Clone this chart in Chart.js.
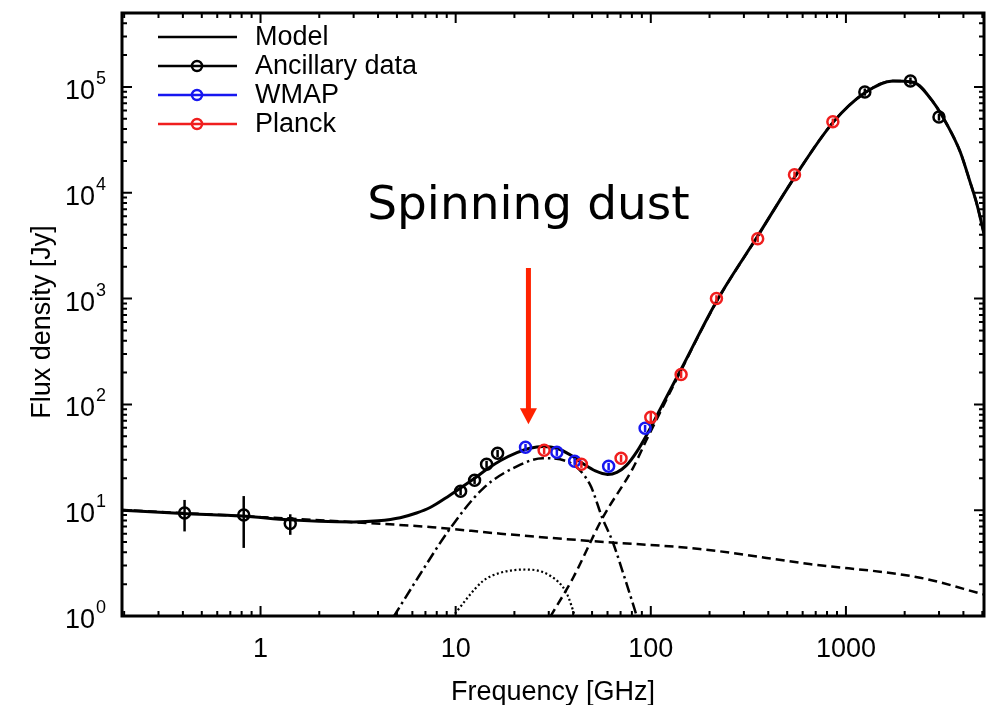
<!DOCTYPE html>
<html>
<head>
<meta charset="utf-8">
<title>Spinning dust SED</title>
<script src="https://cdn.jsdelivr.net/npm/chart.js@4.4.1/dist/chart.umd.min.js"></script>
<style>
  html, body { margin: 0; padding: 0; background: #fff; }
  #wrap { width: 1000px; height: 705px; }
</style>
</head>
<body>
<div id="wrap"><canvas id="sed" width="1000" height="705"></canvas></div>
<script>
/* Values: frequency in GHz, flux density in Jy */

/* measured points */
const ancFreq = [0.408, 0.82, 1.42, 10.6, 12.5, 14.4, 16.4, 1250, 2141, 2998];
const ancFlux = [9.4, 9.0, 7.5, 15.1, 19.2, 27.2, 34.5, 89700, 114000, 52000];
const ancErr  = [3.1, 4.6, 1.65, 1.2, 1.5, 2.1, 2.7, 7000, 9000, 4000];

const wmapFreq = [22.8, 33.0, 40.7, 60.8, 93.5];
const wmapFlux = [39.3, 35.3, 29.0, 26.0, 59.4];
const wmapErr  = [3.0, 2.7, 2.2, 2.0, 4.6];

const planckFreq = [28.4, 44.1, 70.4, 100, 143, 217, 353, 545, 857];
const planckFlux = [36.8, 27.2, 31.0, 75.4, 192, 1000, 3680, 14800, 46800];
const planckErr  = [2.8, 2.1, 2.4, 10, 15, 75, 280, 1100, 3500];

/* model curves */
const modelFreq = [0.19, 0.4, 0.8, 1.4, 2, 3, 4, 5.2, 6.3, 7.4, 9.3, 10.6, 12.5, 14.5, 17, 20.6, 24, 28, 33, 39, 45, 52, 60, 67, 75, 85, 95, 105, 115, 143, 217, 353, 545, 857, 1250, 1740, 2210, 2800, 3300, 3850, 4330, 4700, 5200];
const modelFlux = [10.0, 9.3, 8.8, 8.1, 7.85, 7.75, 7.95, 8.5, 9.4, 10.6, 13.8, 16.2, 20, 24.5, 29.5, 35, 38.5, 40, 38.5, 33, 27.5, 23.5, 21.8, 22.8, 26.5, 36, 51, 72, 100, 215, 940, 3900, 14000, 46000, 88000, 114000, 111000, 72000, 44000, 24400, 12600, 7700, 3500];

const freeFreq = [0.19, 0.4, 1, 3, 7.6, 17, 50, 178, 650, 2400, 5200];
const freeFlux = [10.1, 9.4, 8.6, 7.7, 6.9, 6.0, 5.1, 4.3, 3.1, 2.3, 1.58];

const spinFreq = [4.8, 6.5, 9.3, 13.8, 20.6, 28, 37, 48.7, 56.5, 63.6, 74, 85];
const spinFlux = [0.98, 2.4, 6.6, 16, 26, 31, 29, 17.6, 8.4, 5.1, 2.2, 0.98];

const spin2Freq = [9.6, 13.8, 16.8, 23, 30.5, 37, 41];
const spin2Flux = [0.98, 2.14, 2.55, 2.75, 2.4, 1.65, 0.98];

const dustFreq = [30.5, 40, 56.5, 81, 95, 115, 143, 217, 353, 545, 857, 1250, 1740, 2210, 2800, 3300, 3850, 4330, 4700, 5200];
const dustFlux = [0.98, 2.3, 8.4, 25, 46, 94, 210, 930, 3890, 13990, 45990, 87990, 113990, 110990, 71990, 43990, 24390, 12590, 7690, 3490];

/* axes */
const xRange = [0.195, 5100];
const yRange = [1, 5e5];
const xMajor = [1, 10, 100, 1000];
const xLabels = ['1', '10', '100', '1000'];
const yMajor = [1, 10, 100, 1000, 10000, 100000];
const yExp = ['0', '1', '2', '3', '4', '5'];

/* annotation: arrow and text, in data coordinates */
const noteText = 'Spinning dust';
const noteFreq = 23.6;
const noteTextFlux = 5700;
const arrowFrom = 1950;
const arrowTo = 65;

const BLUE = '#1717f0';
const RED = '#f01e1e';
const FONT = '"Liberation Sans", Arial, Helvetica, sans-serif';

const pts = (xs, ys) => xs.map((v, i) => ({ x: v, y: ys[i] }));

function pointSet(label, xs, ys, err, colour, row) {
  return {
    label, data: pts(xs, ys), err, legendRow: row,
    showLine: false, pointRadius: 5.5, pointBorderWidth: 2.5,
    pointBorderColor: colour, borderColor: colour,
    pointBackgroundColor: 'rgba(0,0,0,0)', backgroundColor: 'rgba(0,0,0,0)'
  };
}

function lineSet(label, xs, ys, width, dash, row) {
  return {
    label, data: pts(xs, ys), legendRow: row,
    showLine: true, pointRadius: 0, borderColor: '#000', borderWidth: width,
    borderDash: dash, cubicInterpolationMode: 'monotone', fill: false
  };
}

/* error bars through the circles */
const errorBars = {
  id: 'errorBars',
  afterDatasetsDraw(chart) {
    const { ctx, chartArea: a, scales: { x, y } } = chart;
    ctx.save();
    ctx.beginPath();
    ctx.rect(a.left, a.top, a.right - a.left, a.bottom - a.top);
    ctx.clip();
    chart.data.datasets.forEach(ds => {
      if (!ds.err) return;
      ctx.strokeStyle = ds.pointBorderColor;
      ctx.lineWidth = 2.5;
      ds.data.forEach((p, i) => {
        const px = x.getPixelForValue(p.x);
        ctx.beginPath();
        ctx.moveTo(px, y.getPixelForValue(p.y + ds.err[i]));
        ctx.lineTo(px, y.getPixelForValue(p.y - ds.err[i]));
        ctx.stroke();
      });
    });
    ctx.restore();
  }
};

/* gnuplot-like frame, inward ticks, labels, legend, annotation */
const frame = {
  id: 'frame',
  afterDraw(chart) {
    const { ctx, chartArea: a, scales: { x, y } } = chart;
    ctx.save();
    ctx.strokeStyle = '#000';
    ctx.fillStyle = '#000';

    // ticks
    const minor = (lo, hi) => {
      const out = [];
      for (let d = Math.floor(Math.log10(lo)); d <= Math.ceil(Math.log10(hi)); d++)
        for (let m = 2; m <= 9; m++) {
          const v = m * Math.pow(10, d);
          if (v > lo && v < hi) out.push(v);
        }
      return out;
    };
    ctx.lineWidth = 2;
    const tickX = (v, len) => {
      const px = x.getPixelForValue(v);
      ctx.beginPath();
      ctx.moveTo(px, a.bottom); ctx.lineTo(px, a.bottom - len);
      ctx.moveTo(px, a.top); ctx.lineTo(px, a.top + len);
      ctx.stroke();
    };
    const tickY = (v, len) => {
      const py = y.getPixelForValue(v);
      ctx.beginPath();
      ctx.moveTo(a.left, py); ctx.lineTo(a.left + len, py);
      ctx.moveTo(a.right, py); ctx.lineTo(a.right - len, py);
      ctx.stroke();
    };
    minor(xRange[0], xRange[1]).forEach(v => tickX(v, 5));
    xMajor.forEach(v => tickX(v, 10));
    minor(yRange[0], yRange[1]).forEach(v => tickY(v, 5));
    yMajor.forEach(v => tickY(v, 10));

    // frame
    ctx.lineWidth = 3;
    ctx.strokeRect(a.left, a.top, a.right - a.left, a.bottom - a.top);

    // x tick labels
    ctx.font = `27px ${FONT}`;
    ctx.textAlign = 'center';
    ctx.textBaseline = 'alphabetic';
    xMajor.forEach((v, i) => ctx.fillText(xLabels[i], x.getPixelForValue(v), 657));

    // y tick labels 10^n
    ctx.textAlign = 'right';
    yMajor.forEach((v, i) => {
      const py = y.getPixelForValue(v);
      ctx.font = `18px ${FONT}`;
      const w = ctx.measureText(yExp[i]).width;
      ctx.fillText(yExp[i], 106, py - 3);
      ctx.font = `27px ${FONT}`;
      ctx.fillText('10', 106 - w - 1, py + 12);
    });

    // axis titles
    ctx.font = `27px ${FONT}`;
    ctx.textAlign = 'center';
    ctx.fillText('Frequency [GHz]', (a.left + a.right) / 2, 700);
    ctx.save();
    ctx.translate(50, 322);
    ctx.rotate(-Math.PI / 2);
    ctx.fillText('Flux density [Jy]', 0, 0);
    ctx.restore();

    // legend
    const rows = chart.data.datasets
      .filter(ds => ds.legendRow !== undefined && ds.legendRow >= 0)
      .sort((p, q) => p.legendRow - q.legendRow);
    ctx.textAlign = 'left';
    ctx.textBaseline = 'middle';
    rows.forEach((ds, i) => {
      const ry = 37 + i * 29;
      const c = ds.pointBorderColor || ds.borderColor;
      ctx.strokeStyle = c;
      ctx.lineWidth = 2.5;
      ctx.beginPath();
      ctx.moveTo(158, ry); ctx.lineTo(237, ry);
      ctx.stroke();
      if (ds.err) {
        ctx.beginPath();
        ctx.arc(197, ry, 5, 0, Math.PI * 2);
        ctx.stroke();
      }
      ctx.fillStyle = '#000';
      ctx.fillText(ds.label, 255, ry + 1);
    });

    // annotation
    const ax = x.getPixelForValue(noteFreq);
    ctx.font = '47px "DejaVu Sans", Verdana, sans-serif';
    ctx.textAlign = 'center';
    ctx.textBaseline = 'alphabetic';
    ctx.fillStyle = '#000';
    ctx.fillText(noteText, ax, y.getPixelForValue(noteTextFlux));
    const top = y.getPixelForValue(arrowFrom), tip = y.getPixelForValue(arrowTo);
    ctx.strokeStyle = '#ff2200';
    ctx.fillStyle = '#ff2200';
    ctx.lineWidth = 5;
    ctx.beginPath();
    ctx.moveTo(ax, top); ctx.lineTo(ax, tip - 12);
    ctx.stroke();
    ctx.beginPath();
    ctx.moveTo(ax - 8.5, tip - 16); ctx.lineTo(ax + 8.5, tip - 16); ctx.lineTo(ax, tip);
    ctx.closePath();
    ctx.fill();

    ctx.restore();
  }
};

new Chart(document.getElementById('sed'), {
  type: 'scatter',
  data: {
    datasets: [
      pointSet('Planck', planckFreq, planckFlux, planckErr, RED, 3),
      pointSet('WMAP', wmapFreq, wmapFlux, wmapErr, BLUE, 2),
      pointSet('Ancillary data', ancFreq, ancFlux, ancErr, '#000', 1),
      lineSet('Model', modelFreq, modelFlux, 3, [], 0),
      lineSet('Free-free', freeFreq, freeFlux, 2.5, [9, 5], -1),
      lineSet('Spinning dust', spinFreq, spinFlux, 2.5, [11, 4, 2.5, 4], -1),
      lineSet('Spinning dust 2', spin2Freq, spin2Flux, 2.2, [2, 2.5], -1),
      lineSet('Thermal dust', dustFreq, dustFlux, 2.5, [9, 5], -1)
    ]
  },
  options: {
    responsive: false,
    animation: false,
    events: [],
    layout: { padding: { left: 122, right: 16, top: 13, bottom: 89 } },
    scales: {
      x: { type: 'logarithmic', min: xRange[0], max: xRange[1], display: false },
      y: { type: 'logarithmic', min: yRange[0], max: yRange[1], display: false }
    },
    plugins: { legend: { display: false }, tooltip: { enabled: false } }
  },
  plugins: [errorBars, frame]
});
</script>
</body>
</html>
